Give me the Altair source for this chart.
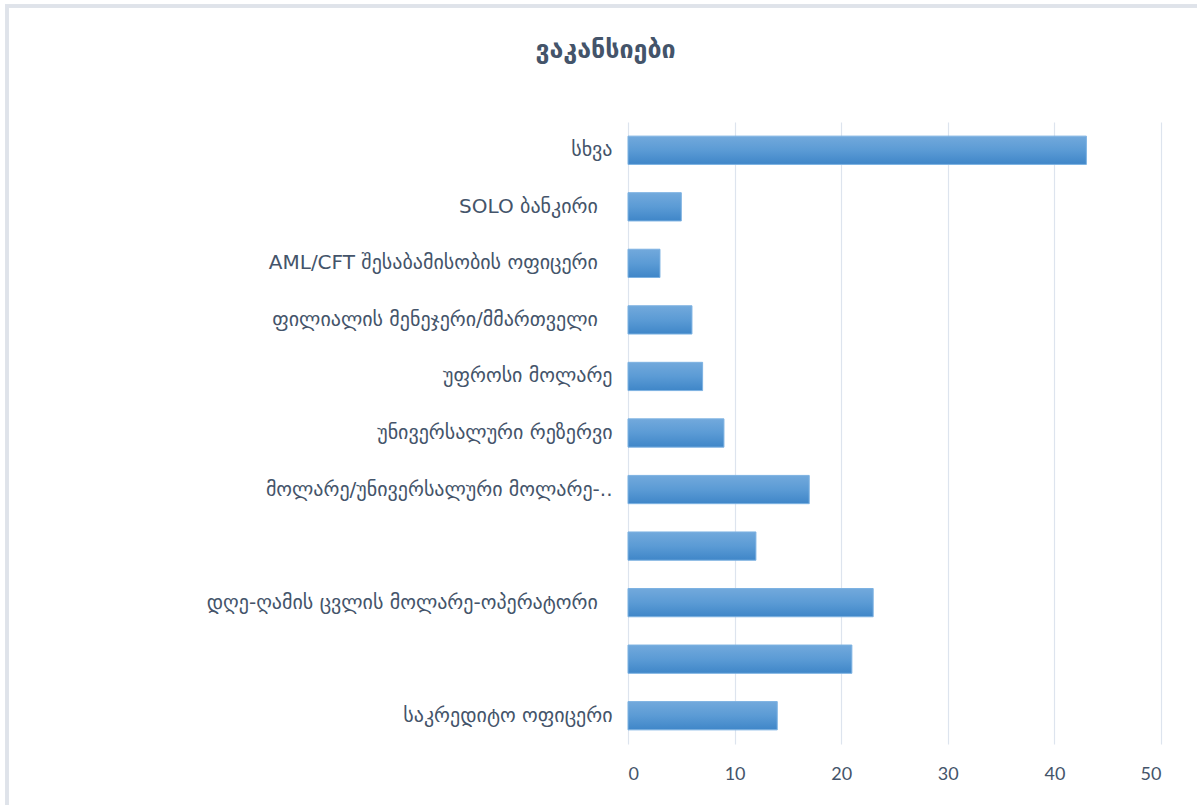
import altair as alt
import pandas as pd

# Vacancy categories, listed top to bottom as they appear on the axis
# (a trailing blank cell keeps some labels slightly away from the bars)
PAD = "\u2800"
categories = [
    "სხვა",
    "SOLO ბანკირი" + PAD,
    "AML/CFT შესაბამისობის ოფიცერი" + PAD,
    "ფილიალის მენეჯერი/მმართველი" + PAD,
    "უფროსი მოლარე",
    "უნივერსალური რეზერვი",
    "მოლარე/უნივერსალური მოლარე-..",
    " ",
    "დღე-ღამის ცვლის მოლარე-ოპერატორი" + PAD,
    "  ",
    "საკრედიტო ოფიცერი",
]
counts = [43, 5, 3, 6, 7, 9, 17, 12, 23, 21, 14]
x_ticks = [0, 10, 20, 30, 40, 50]

df = pd.DataFrame({"category": categories, "count": counts})

FONT = "DejaVu Sans, sans-serif"
TEXT = "#44546a"

bar_fill = alt.LinearGradient(
    gradient="linear",
    stops=[
        alt.GradientStop(color="#72a9dc", offset=0),
        alt.GradientStop(color="#5b9bd5", offset=0.5),
        alt.GradientStop(color="#3f86c8", offset=1),
    ],
    x1=0, x2=0, y1=0, y2=1,
)

bars = alt.Chart(df).mark_bar(
    color=bar_fill, stroke="#7db2e2", strokeWidth=1
).encode(
    x=alt.X(
        "count:Q",
        scale=alt.Scale(domain=[0, 50], nice=False),
        axis=alt.Axis(
            values=x_ticks, title=None, domain=False, ticks=False,
            grid=True, gridColor="#dde4ee", gridWidth=1.2,
            labelFont="Lato, sans-serif", labelFontSize=18, labelColor=TEXT,
            labelPadding=21,
        ),
    ),
    y=alt.Y(
        "category:N",
        sort=categories,
        scale=alt.Scale(paddingInner=0.5, paddingOuter=0.25),
        axis=alt.Axis(
            title=None, domain=False, ticks=False,
            labelFont=FONT, labelFontSize=20, labelColor=TEXT, labelPadding=16,
            labelLimit=0,
        ),
    ),
)

# thin frame around the whole chart
frame = alt.Chart(df).mark_rect(
    fill=None, stroke="#dfe3ea", strokeWidth=3
).encode(
    x=alt.value(-621), x2=alt.value(580),
    y=alt.value(-116), y2=alt.value(700),
)

chart = alt.layer(frame, bars).properties(
    width=533,
    height=622,
    background="white",
    title=alt.TitleParams(
        "ვაკანსიები", font=FONT, fontSize=25, fontWeight="bold", color=TEXT,
        anchor="middle", dx=-289, offset=-58,
    ),
    padding={"left": 628, "top": 122, "right": 36, "bottom": 61},
    autosize=alt.AutoSizeParams(type="none"),
).configure_view(stroke=None)

chart.save("out.html", embed_options={"renderer": "svg", "actions": False})
